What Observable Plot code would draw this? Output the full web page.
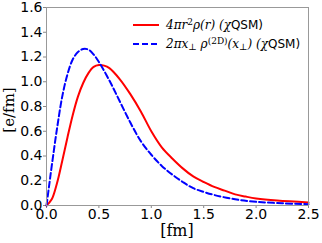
<!DOCTYPE html>
<html><head><meta charset="utf-8">
<script src="https://cdn.jsdelivr.net/npm/d3@7"></script>
<script src="https://cdn.jsdelivr.net/npm/@observablehq/plot@0.6"></script>
<style>body{margin:0;background:#fff}</style>
</head><body><div id="c"></div>
<script>
const redR = [0,0.05,0.1,0.15,0.2,0.25,0.3,0.35,0.4,0.45,0.5,0.55,0.6,0.7,0.8,0.9,1.0,1.1,1.2,1.3,1.4,1.5,1.6,1.7,1.8,1.9,2.0,2.2,2.5];
const redV = [0,0.05,0.18,0.36,0.55,0.73,0.88,0.99,1.07,1.12,1.135,1.13,1.11,1.02,0.90,0.76,0.60,0.47,0.38,0.30,0.235,0.19,0.15,0.12,0.09,0.072,0.057,0.04,0.025];
const blueX = [0,0.025,0.05,0.1,0.15,0.2,0.25,0.3,0.35,0.4,0.45,0.5,0.6,0.7,0.8,0.9,1.0,1.1,1.2,1.3,1.4,1.5,1.6,1.8,2.0,2.25,2.5];
const blueV = [0,0.16,0.32,0.62,0.88,1.06,1.18,1.24,1.265,1.26,1.22,1.16,1.01,0.84,0.67,0.52,0.41,0.32,0.25,0.19,0.14,0.11,0.085,0.05,0.03,0.018,0.01];
const xTicks = [0,0.5,1.0,1.5,2.0,2.5];
const yTicks = [0,0.2,0.4,0.6,0.8,1.0,1.2,1.4,1.6];

const red = redR.map((r,i)=>({x:r,y:redV[i]}));
const blue = blueX.map((r,i)=>({x:r,y:blueV[i]}));

const plot = Plot.plot({
  width:322, height:243,
  marginLeft:46, marginRight:14, marginTop:7, marginBottom:38,
  style:{fontFamily:"DejaVu Sans", fontSize:"14px", color:"#000", background:"#fff"},
  x:{domain:[0,2.5], label:null},
  y:{domain:[0,1.6], label:null},
  marks:[
    Plot.axisX({ticks:xTicks, tickFormat:d3.format(".1f"), tickSize:3, tickPadding:1, stroke:"#888", fill:"#000", label:null}),
    Plot.axisY({ticks:yTicks, tickFormat:d3.format(".1f"), tickSize:3, tickPadding:1, stroke:"#888", fill:"#000", label:null}),
    Plot.line(red,{x:"x",y:"y",stroke:"#ff0000",strokeWidth:2,curve:"catmull-rom"}),
    Plot.line(blue,{x:"x",y:"y",stroke:"#0000ff",strokeWidth:2,strokeDasharray:"6,3",curve:"catmull-rom"}),
    Plot.frame({stroke:"#999"})
  ]
});
const svg = d3.select(plot);
// axis titles
svg.append("text").attr("x",177).attr("y",236).attr("text-anchor","middle")
  .attr("font-family","DejaVu Serif").attr("font-size",16).attr("fill","#000").text("[fm]");
svg.append("text").attr("transform","translate(14,110) rotate(-90)").attr("text-anchor","middle")
  .attr("font-family","DejaVu Serif").attr("font-size",15).attr("fill","#000").text("[e/fm]");
// legend
const lg = svg.append("g").attr("font-size",12).attr("fill","#000").attr("text-anchor","start");
lg.append("line").attr("x1",133).attr("x2",159).attr("y1",25).attr("y2",25).attr("stroke","#ff0000").attr("stroke-width",2);
lg.append("line").attr("x1",133).attr("x2",159).attr("y1",44).attr("y2",44).attr("stroke","#0000ff").attr("stroke-width",2).attr("stroke-dasharray","6,3");
const t1 = lg.append("text").attr("x",166).attr("y",29);
t1.append("tspan").attr("font-family","DejaVu Serif").attr("font-style","italic").text("4πr");
t1.append("tspan").attr("font-family","DejaVu Serif").attr("font-size",9).attr("dy",-4).text("2");
t1.append("tspan").attr("font-family","DejaVu Serif").attr("font-style","italic").attr("dy",4).text("ρ(r) (χ");
t1.append("tspan").attr("font-family","DejaVu Sans").text("QSM)");
const t2 = lg.append("text").attr("x",166).attr("y",48);
t2.append("tspan").attr("font-family","DejaVu Serif").attr("font-style","italic").text("2πx");
t2.append("tspan").attr("font-family","DejaVu Serif").attr("font-size",9).attr("dy",2).text("⊥");
t2.append("tspan").attr("font-family","DejaVu Serif").attr("font-style","italic").attr("dy",-2).text(" ρ");
t2.append("tspan").attr("font-family","DejaVu Serif").attr("font-size",9).attr("dy",-4).text("(2D)");
t2.append("tspan").attr("font-family","DejaVu Serif").attr("font-style","italic").attr("dy",4).text("(x");
t2.append("tspan").attr("font-family","DejaVu Serif").attr("font-size",9).attr("dy",2).text("⊥");
t2.append("tspan").attr("font-family","DejaVu Serif").attr("font-style","italic").attr("dy",-2).text(") (χ");
t2.append("tspan").attr("font-family","DejaVu Sans").text("QSM)");
document.getElementById("c").appendChild(plot);
</script></body></html>
